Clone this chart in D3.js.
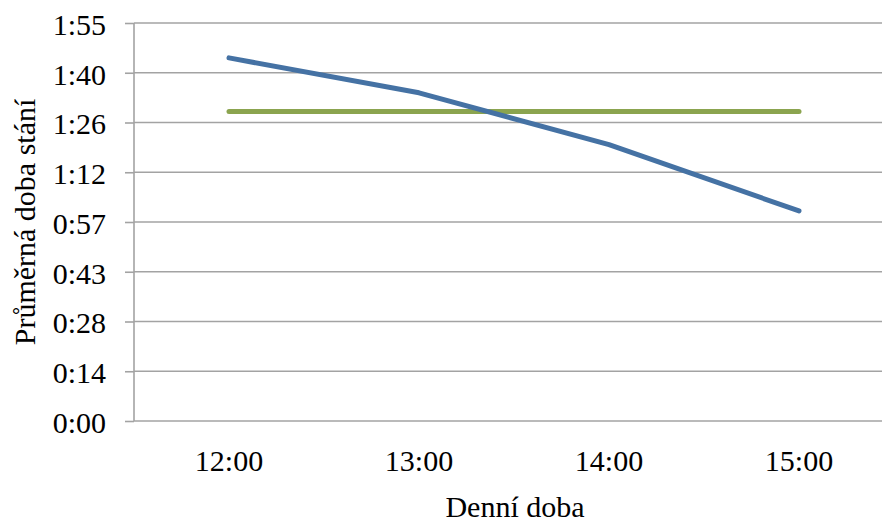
<!DOCTYPE html>
<html>
<head>
<meta charset="utf-8">
<script src="https://cdn.jsdelivr.net/npm/d3@7"></script>
<style>
  html, body { margin: 0; padding: 0; background: #fff; }
  svg { display: block; }
</style>
</head>
<body>
<svg id="chart" width="882" height="522"></svg>
<script>
// Time of day categories
const categories = ["12:00", "13:00", "14:00", "15:00"];
// Average parking duration (minutes) per time of day
const durationMinutes = [105.1, 95.0, 80.0, 60.8];
// Overall average parking duration (minutes)
const averageMinutes = [89.6, 89.6, 89.6, 89.6];
// Y axis ticks: steps of 0.01 day (14.4 min)
const yTickValues = [0, 14.4, 28.8, 43.2, 57.6, 72, 86.4, 100.8, 115.2];
const yTickLabels = ["0:00", "0:14", "0:28", "0:43", "0:57", "1:12", "1:26", "1:40", "1:55"];

const xTitle = "Denní doba";
const yTitle = "Průměrná doba stání";

const FONT = '"Liberation Serif"';
const svg = d3.select("#chart");
const plotLeft = 134, plotTop = 23, plotBottom = 421, plotRight = 894;

const x = d3.scaleBand().domain(categories).range([plotLeft, plotRight]).padding(0);
const y = d3.scaleLinear().domain([0, 115.2]).range([plotBottom, plotTop]);

const gridColor = "#a3a3a3";

// Left tick marks and labels
const yAxis = d3.axisLeft(y)
  .tickValues(yTickValues)
  .tickFormat((d, i) => yTickLabels[i])
  .tickSize(9)
  .tickPadding(19);

const gy = svg.append("g").attr("transform", `translate(${plotLeft},0)`).call(yAxis);
gy.select(".domain").remove();
gy.selectAll(".tick line").attr("stroke", gridColor).attr("stroke-width", 1.6);
gy.selectAll(".tick text")
  .style("font-family", FONT)
  .style("font-size", "30px")
  .attr("fill", "#000")
  .attr("dy", "0.38em");

// Horizontal gridlines
svg.append("g")
  .selectAll("line")
  .data(yTickValues)
  .join("line")
  .attr("x1", plotLeft).attr("x2", plotRight)
  .attr("y1", d => y(d)).attr("y2", d => y(d))
  .attr("stroke", gridColor).attr("stroke-width", 1.6);

// Vertical axis line
svg.append("line")
  .attr("x1", plotLeft).attr("x2", plotLeft)
  .attr("y1", plotTop).attr("y2", plotBottom)
  .attr("stroke", gridColor).attr("stroke-width", 1.6);

// Category labels
const xAxis = d3.axisBottom(x).tickSize(0).tickPadding(0);
const gx = svg.append("g").attr("transform", `translate(0,${plotBottom})`).call(xAxis);
gx.select(".domain").remove();
gx.selectAll(".tick text")
  .style("font-family", FONT)
  .style("font-size", "30px")
  .attr("fill", "#000")
  .attr("dy", null)
  .attr("y", 50);

const cx = d => x(d) + x.bandwidth() / 2;
const seriesLine = d3.line().x((d, i) => cx(categories[i])).y(d => y(d));

// Average line
svg.append("path")
  .datum(averageMinutes)
  .attr("d", seriesLine)
  .attr("fill", "none")
  .attr("stroke", "#8ba44f")
  .attr("stroke-width", 5)
  .attr("stroke-linecap", "round")
  .attr("stroke-linejoin", "round");

// Duration line
svg.append("path")
  .datum(durationMinutes)
  .attr("d", seriesLine)
  .attr("fill", "none")
  .attr("stroke", "#4572a4")
  .attr("stroke-width", 5)
  .attr("stroke-linecap", "round")
  .attr("stroke-linejoin", "round");

// Axis titles
svg.append("text")
  .attr("x", 515).attr("y", 517)
  .attr("text-anchor", "middle")
  .style("font-family", FONT)
  .style("font-size", "30px")
  .text(xTitle);

svg.append("text")
  .attr("transform", `translate(35,${(plotTop + plotBottom) / 2}) rotate(-90)`)
  .attr("text-anchor", "middle")
  .style("font-family", FONT)
  .style("font-size", "30px")
  .text(yTitle);
</script>
</body>
</html>
